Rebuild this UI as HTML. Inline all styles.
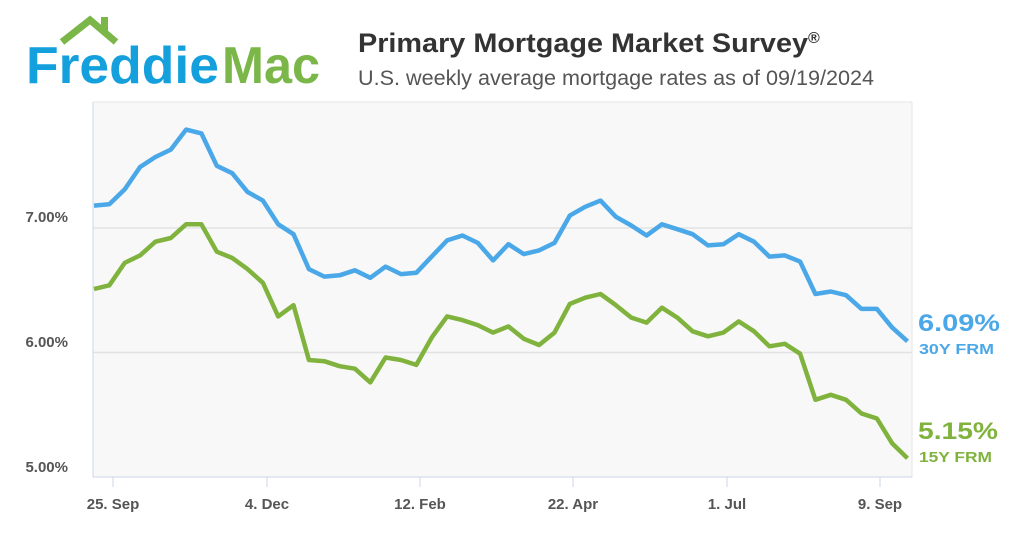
<!DOCTYPE html>
<html><head><meta charset="utf-8"><style>
body{margin:0;width:1024px;height:538px;background:#fff;overflow:hidden;font-family:"Liberation Sans",sans-serif}
</style></head><body>
<svg width="1024" height="538" xmlns="http://www.w3.org/2000/svg" font-family="Liberation Sans, sans-serif">
<polyline points="62,42 90,20 116,42" fill="none" stroke="#7ab648" stroke-width="7"/>
<rect x="101" y="17" width="7" height="14" fill="#7ab648"/>
<text x="26" y="83" font-size="52" font-weight="bold" fill="#13a0dd" textLength="193" lengthAdjust="spacingAndGlyphs">Freddie</text>
<text x="222" y="83" font-size="52" font-weight="bold" fill="#7ab648" textLength="98" lengthAdjust="spacingAndGlyphs">Mac</text>
<text x="358" y="52" font-size="27" font-weight="bold" fill="#333" textLength="450" lengthAdjust="spacingAndGlyphs">Primary Mortgage Market Survey</text>
<text x="808" y="43" font-size="16" font-weight="bold" fill="#333">®</text>
<text x="358" y="85" font-size="21" fill="#555" textLength="516" lengthAdjust="spacingAndGlyphs">U.S. weekly average mortgage rates as of 09/19/2024</text>
<rect x="93" y="102" width="819" height="375" fill="#f8f8f8" stroke="#e6e6e6"/>
<line x1="93" y1="228" x2="912" y2="228" stroke="#e2e2e2" stroke-width="1.5"/>
<line x1="93" y1="352.5" x2="912" y2="352.5" stroke="#e2e2e2" stroke-width="1.5"/>
<line x1="93" y1="102" x2="93" y2="477" stroke="#ccd6eb"/>
<line x1="93" y1="477" x2="912" y2="477" stroke="#ccd6eb"/>
<g stroke="#ccd6eb"><line x1="113" y1="477" x2="113" y2="487"/><line x1="267" y1="477" x2="267" y2="487"/><line x1="420" y1="477" x2="420" y2="487"/><line x1="573" y1="477" x2="573" y2="487"/><line x1="727" y1="477" x2="727" y2="487"/><line x1="880" y1="477" x2="880" y2="487"/></g>
<g font-size="15" font-weight="bold" fill="#555" text-anchor="middle">
<text x="113" y="509">25. Sep</text><text x="267" y="509">4. Dec</text><text x="420" y="509">12. Feb</text><text x="573" y="509">22. Apr</text><text x="727" y="509">1. Jul</text><text x="880" y="509">9. Sep</text></g>
<g font-size="15" font-weight="bold" fill="#555" text-anchor="end">
<text x="68" y="222">7.00%</text><text x="68" y="347">6.00%</text><text x="68" y="472">5.00%</text></g>
<polyline id="a" fill="none" stroke="#4ba8e8" stroke-width="4.5" stroke-linejoin="round"/>
<polyline id="b" fill="none" stroke="#80b33e" stroke-width="4.5" stroke-linejoin="round"/>
<text x="918" y="331" font-size="24" font-weight="bold" fill="#4ba8e8" textLength="82" lengthAdjust="spacingAndGlyphs">6.09%</text>
<text x="919" y="354" font-size="15" font-weight="bold" fill="#4ba8e8" textLength="75" lengthAdjust="spacingAndGlyphs">30Y FRM</text>
<text x="918" y="439" font-size="24" font-weight="bold" fill="#80b33e" textLength="80" lengthAdjust="spacingAndGlyphs">5.15%</text>
<text x="919" y="462" font-size="15" font-weight="bold" fill="#80b33e" textLength="73" lengthAdjust="spacingAndGlyphs">15Y FRM</text>
</svg>
<script>
var a=[7.18,7.19,7.31,7.49,7.57,7.63,7.79,7.76,7.50,7.44,7.29,7.22,7.03,6.95,6.67,6.61,6.62,6.66,6.60,6.69,6.63,6.64,6.77,6.90,6.94,6.88,6.74,6.87,6.79,6.82,6.88,7.10,7.17,7.22,7.09,7.02,6.94,7.03,6.99,6.95,6.86,6.87,6.95,6.89,6.77,6.78,6.73,6.47,6.49,6.46,6.35,6.35,6.20,6.09];
var b=[6.51,6.54,6.72,6.78,6.89,6.92,7.03,7.03,6.81,6.76,6.67,6.56,6.29,6.38,5.94,5.93,5.89,5.87,5.76,5.96,5.94,5.90,6.12,6.29,6.26,6.22,6.16,6.21,6.11,6.06,6.16,6.39,6.44,6.47,6.38,6.28,6.24,6.36,6.28,6.17,6.13,6.16,6.25,6.17,6.05,6.07,5.99,5.62,5.66,5.62,5.51,5.47,5.27,5.15];
function p(d){return d.map(function(v,i){return (94+i*15.35).toFixed(1)+","+(352.5-(v-6)*124.5).toFixed(1)}).join(" ")}
document.getElementById("a").setAttribute("points",p(a));
document.getElementById("b").setAttribute("points",p(b));
</script>
</body></html>
